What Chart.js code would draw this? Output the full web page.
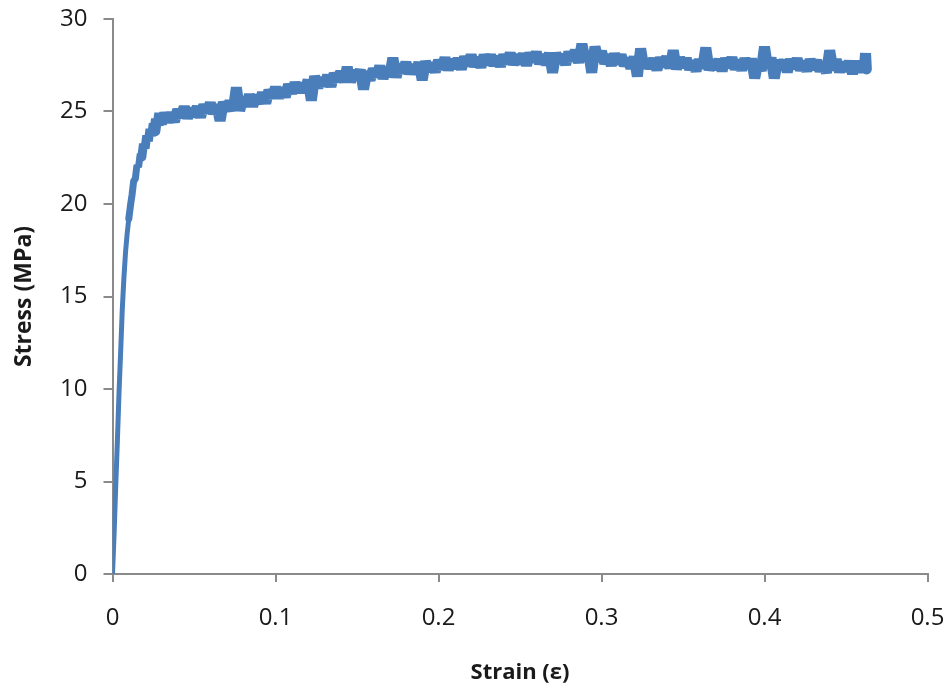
<!DOCTYPE html>
<html>
<head>
<meta charset="utf-8">
<title>Stress-strain curve</title>
<script src="https://cdn.jsdelivr.net/npm/chart.js@4/dist/chart.umd.min.js"></script>
<style>
  html, body { margin: 0; padding: 0; background: #fff; }
  #wrap { width: 944px; height: 686px; }
</style>
</head>
<body>
<div id="wrap"><canvas id="myChart" width="944" height="686"></canvas></div>
<script>
"use strict";

// strain values
const strain = [
  0, 0.001, 0.002, 0.003, 0.004, 0.005, 0.006, 0.007, 0.008, 0.009,
  0.010, 0.011, 0.012, 0.013, 0.014, 0.015, 0.016, 0.017, 0.018, 0.019,
  0.020, 0.021, 0.022, 0.023, 0.024, 0.025, 0.026, 0.027, 0.028, 0.029, 0.030,
  0.032, 0.034, 0.036, 0.038, 0.040, 0.042, 0.044, 0.046, 0.048, 0.050,
  0.052, 0.054, 0.056, 0.058, 0.060, 0.062, 0.064, 0.066, 0.068, 0.070,
  0.072, 0.074, 0.076, 0.078, 0.080, 0.082, 0.084, 0.086, 0.088, 0.090,
  0.092, 0.094, 0.096, 0.098, 0.100, 0.102, 0.104, 0.106, 0.108, 0.110,
  0.112, 0.114, 0.116, 0.118, 0.120, 0.122, 0.124, 0.126, 0.128, 0.130,
  0.132, 0.134, 0.136, 0.138, 0.140, 0.142, 0.144, 0.146, 0.148, 0.150,
  0.152, 0.154, 0.156, 0.158, 0.160, 0.162, 0.164, 0.166, 0.168, 0.170,
  0.172, 0.174, 0.176, 0.178, 0.180, 0.182, 0.184, 0.186, 0.188, 0.190,
  0.192, 0.194, 0.196, 0.198, 0.200, 0.202, 0.204, 0.206, 0.208, 0.210,
  0.212, 0.214, 0.216, 0.218, 0.220, 0.222, 0.224, 0.226, 0.228, 0.230,
  0.232, 0.234, 0.236, 0.238, 0.240, 0.242, 0.244, 0.246, 0.248, 0.250,
  0.252, 0.254, 0.256, 0.258, 0.260, 0.262, 0.264, 0.266, 0.268, 0.270,
  0.272, 0.274, 0.276, 0.278, 0.280, 0.282, 0.284, 0.286, 0.288, 0.290,
  0.292, 0.294, 0.296, 0.298, 0.300, 0.302, 0.304, 0.306, 0.308, 0.310,
  0.312, 0.314, 0.316, 0.318, 0.320, 0.322, 0.324, 0.326, 0.328, 0.330,
  0.332, 0.334, 0.336, 0.338, 0.340, 0.342, 0.344, 0.346, 0.348, 0.350,
  0.352, 0.354, 0.356, 0.358, 0.360, 0.362, 0.364, 0.366, 0.368, 0.370,
  0.372, 0.374, 0.376, 0.378, 0.380, 0.382, 0.384, 0.386, 0.388, 0.390,
  0.392, 0.394, 0.396, 0.398, 0.400, 0.402, 0.404, 0.406, 0.408, 0.410,
  0.412, 0.414, 0.416, 0.418, 0.420, 0.422, 0.424, 0.426, 0.428, 0.430,
  0.432, 0.434, 0.436, 0.438, 0.440, 0.442, 0.444, 0.446, 0.448, 0.450,
  0.452, 0.454, 0.456, 0.458, 0.460, 0.461, 0.462, 0.4625
];

// stress in MPa, same order as strain
const stress = [
  0, 2.2, 4.8, 7.2, 9.8, 12.0, 14.3, 16.0, 17.4, 18.4,
  19.2, 19.9, 20.5, 21.25, 21.35, 22.1, 22.0, 22.7, 22.55, 23.25,
  23.0, 23.7, 23.4, 24.05, 23.7, 24.35, 23.95, 24.6, 24.25, 24.9, 24.35,
  24.9, 24.45, 24.9, 24.45, 25.1, 24.7, 25.25, 24.65, 25.15, 24.75,
  25.25, 24.7, 25.35, 24.95, 25.45, 24.9, 25.35, 24.5, 25.5, 25.05,
  25.55, 25.05, 26.3, 25.05, 25.7, 25.3, 25.9, 25.3, 25.85, 25.45,
  26.0, 25.45, 26.15, 25.75, 26.3, 25.75, 26.25, 25.8, 26.45, 26.0,
  26.55, 26.05, 26.5, 26.05, 26.7, 25.6, 26.9, 26.3, 26.8, 26.4,
  26.95, 26.35, 27.05, 26.65, 27.15, 26.6, 27.4, 26.6, 27.2, 26.75,
  27.25, 26.2, 27.15, 26.7, 27.3, 26.9, 27.45, 26.8, 27.35, 26.9,
  27.9, 26.85, 27.55, 27.1, 27.65, 27.05, 27.5, 27.05, 27.65, 26.7,
  27.7, 27.2, 27.6, 27.15, 27.75, 27.3, 27.9, 27.25, 27.8, 27.35,
  27.85, 27.3, 27.95, 27.5, 28.05, 27.45, 27.9, 27.4, 28.05, 27.55,
  28.05, 27.5, 27.95, 27.45, 28.05, 27.6, 28.15, 27.55, 28.05, 27.6,
  28.1, 27.5, 28.15, 27.7, 28.2, 27.6, 28.05, 27.55, 28.15, 27.1,
  28.15, 27.65, 28.05, 27.55, 28.2, 27.75, 28.3, 27.65, 28.65, 27.75,
  28.25, 27.1, 28.5, 27.75, 28.25, 27.6, 28.05, 27.5, 28.1, 27.6,
  28.05, 27.5, 27.85, 27.35, 27.95, 26.9, 28.4, 27.35, 27.8, 27.35,
  27.85, 27.25, 27.9, 27.45, 27.95, 27.35, 28.3, 27.3, 27.9, 27.4,
  27.85, 27.3, 27.7, 27.2, 27.8, 27.35, 28.45, 27.25, 27.75, 27.3,
  27.8, 27.2, 27.85, 27.4, 27.9, 27.3, 27.75, 27.25, 27.85, 27.35,
  27.85, 26.8, 27.7, 27.2, 28.5, 27.35, 27.9, 26.8, 27.75, 27.3,
  27.75, 27.15, 27.8, 27.35, 27.85, 27.25, 27.7, 27.2, 27.8, 27.3,
  27.75, 27.2, 27.6, 27.1, 28.3, 27.25, 27.8, 27.15, 27.65, 27.2,
  27.7, 27.05, 27.7, 27.15, 27.65, 27.1, 28.15, 27.3
];

const xTicks = [0, 0.1, 0.2, 0.3, 0.4, 0.5];
const yTicks = [0, 5, 10, 15, 20, 25, 30];

const xTitle = "Strain (\u03b5)";
const yTitle = "Stress (MPa)";

const axisGray = "#8a8a8a";
const textColor = "#1a1a1a";

// stop the tick labels from pushing the plot area inwards,
// the layout padding below places it
function noLabelPadding(scale) {
    scale.paddingLeft = 0;
    scale.paddingRight = 0;
    scale.paddingTop = 0;
    scale.paddingBottom = 0;
}

// the trace is thin on the elastic rise and a wide noisy band afterwards
function traceWidth(c) {
    const x = c.p0.parsed.x;
    if (x < 0.010) return 5;
    if (x < 0.018) return 7;
    if (x < 0.026) return 9;
    return 11;
}

function initialize() {
    const points = [];
    for (let i = 0; i < strain.length; i++) {
        points.push({ x: strain[i], y: stress[i] });
    }

    const ctx = document.getElementById("myChart").getContext("2d");

    new Chart(ctx, {
        type: "line",
        data: {
            datasets: [{
                data: points,
                borderColor: "#4a7ebb",
                borderWidth: 11,
                borderJoinStyle: "bevel",
                borderCapStyle: "round",
                segment: { borderWidth: traceWidth },
                pointRadius: 0,
                tension: 0,
                fill: false
            }]
        },
        options: {
            responsive: false,
            animation: false,
            layout: { padding: { left: 0, right: 16.5, top: 19, bottom: 0 } },
            plugins: {
                legend: { display: false },
                tooltip: { enabled: false }
            },
            scales: {
                x: {
                    type: "linear",
                    min: 0,
                    max: 0.5,
                    afterBuildTicks: function (scale) {
                        scale.ticks = xTicks.map(v => ({ value: v }));
                    },
                    afterFit: function (scale) {
                        scale.height = 112;
                        noLabelPadding(scale);
                    },
                    border: { color: axisGray, width: 2 },
                    grid: {
                        drawOnChartArea: false,
                        drawTicks: true,
                        tickLength: 8,
                        color: axisGray,
                        lineWidth: 2
                    },
                    ticks: {
                        padding: 22,
                        color: textColor,
                        font: { family: "Open Sans", size: 24 },
                        maxRotation: 0,
                        callback: v => String(Math.round(v * 10) / 10)
                    },
                    title: {
                        display: true,
                        text: xTitle,
                        color: textColor,
                        font: { family: "Open Sans", size: 22, weight: "bold" },
                        padding: { top: 0, bottom: 0 }
                    }
                },
                y: {
                    type: "linear",
                    min: 0,
                    max: 30,
                    afterBuildTicks: function (scale) {
                        scale.ticks = yTicks.map(v => ({ value: v }));
                    },
                    afterFit: function (scale) {
                        scale.width = 112.5;
                        noLabelPadding(scale);
                    },
                    border: { color: axisGray, width: 2 },
                    grid: {
                        drawOnChartArea: false,
                        drawTicks: true,
                        tickLength: 9,
                        color: axisGray,
                        lineWidth: 2
                    },
                    ticks: {
                        padding: 16,
                        color: textColor,
                        font: { family: "Open Sans", size: 24 }
                    },
                    title: {
                        display: true,
                        text: yTitle,
                        color: textColor,
                        font: { family: "Open Sans", size: 23, weight: "bold" },
                        padding: { top: 11, bottom: 0 }
                    }
                }
            }
        }
    });
}

initialize();
</script>
</body>
</html>
